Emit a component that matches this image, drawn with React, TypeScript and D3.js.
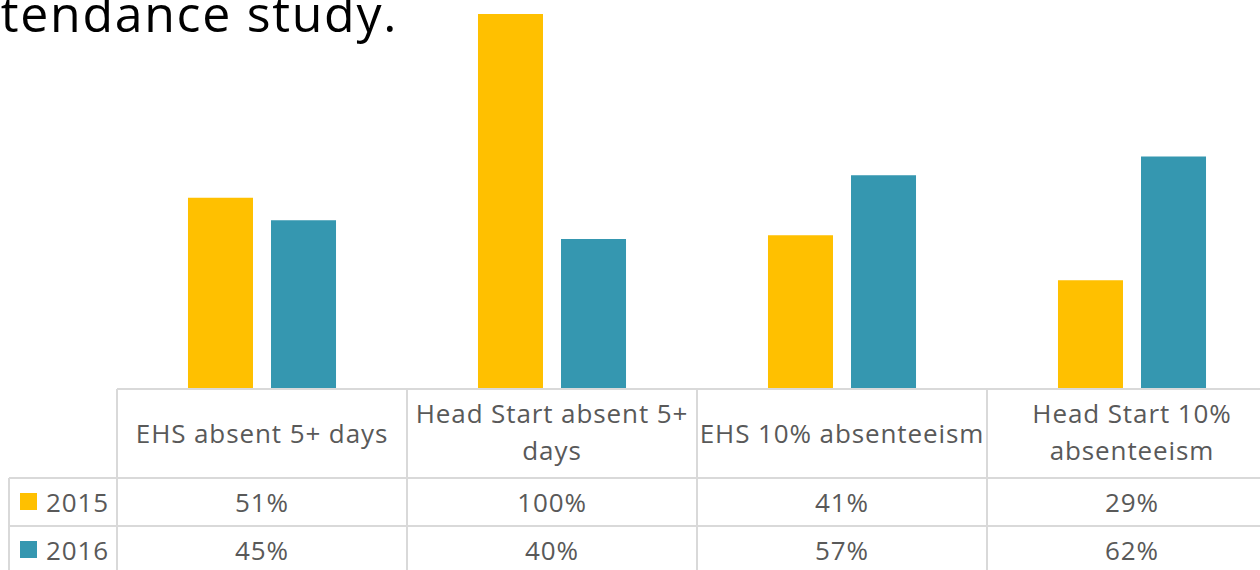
import React, { useEffect, useRef } from 'react';
import * as d3 from 'd3';

const categories = [
  ['EHS absent 5+ days'],
  ['Head Start absent 5+', 'days'],
  ['EHS 10% absenteeism'],
  ['Head Start 10%', 'absenteeism'],
];
const seriesNames = ['2015', '2016'];
const values2015 = [0.51, 1.0, 0.41, 0.29];
const values2016 = [0.45, 0.4, 0.57, 0.62];
const labels2015 = ['51%', '100%', '41%', '29%'];
const labels2016 = ['45%', '40%', '57%', '62%'];
const colors = ['#FFC000', '#3597B0'];

const FONT = '"Open Sans", "Noto Sans", sans-serif';

const App = () => {
  const svgRef = useRef<SVGSVGElement>(null);

  useEffect(() => {
    const svg = d3.select(svgRef.current);
    svg.selectAll('*').remove();

    const W = 1260, H = 570;
    const left = 117, colW = 290;
    const base = 389, top = 14;
    const headerBottom = 478, rowH = 48;
    const legendLeft = 9;
    const grid = '#D9D9D9';
    const txt = '#595959';
    const fs = 26;
    const ls = 0.9;

    const keys = categories.map((c) => c.join(' '));
    const x = d3.scaleBand().domain(keys).range([left, left + colW * keys.length]);
    const xs = d3.scaleBand().domain(seriesNames).range([0, colW]).paddingInner(0.217).paddingOuter(0.855);
    const y = d3.scaleLinear().domain([0, 1]).range([base, top]);

    // title (cut off at the left edge, as in the slide)
    svg.append('text')
      .attr('x', 398).attr('y', 32)
      .attr('text-anchor', 'end')
      .attr('font-family', FONT).attr('font-size', 50)
      .attr('letter-spacing', 1.7)
      .attr('fill', '#000')
      .text('tendance study.');

    const allVals = [values2015, values2016];
    seriesNames.forEach((s, si) => {
      svg.append('g').selectAll('rect')
        .data(keys)
        .enter().append('rect')
        .attr('x', (d) => x(d)! + xs(s)!)
        .attr('width', xs.bandwidth())
        .attr('y', (d, i) => y(allVals[si][i]))
        .attr('height', (d, i) => base - y(allVals[si][i]))
        .attr('fill', colors[si]);
    });

    // data table grid
    const g = svg.append('g').attr('stroke', grid).attr('stroke-width', 2).attr('fill', 'none');
    g.append('line').attr('x1', left).attr('x2', W).attr('y1', base).attr('y2', base);
    [0, 1, 2].forEach((r) => {
      const yy = headerBottom + r * rowH;
      g.append('line').attr('x1', legendLeft).attr('x2', W).attr('y1', yy).attr('y2', yy);
    });
    g.append('line').attr('x1', legendLeft).attr('x2', legendLeft).attr('y1', headerBottom).attr('y2', H + 10);
    keys.forEach((k) => {
      g.append('line').attr('x1', x(k)!).attr('x2', x(k)!).attr('y1', base).attr('y2', H + 10);
    });
    g.append('line').attr('x1', left + colW * 4).attr('x2', left + colW * 4).attr('y1', base).attr('y2', H + 10);

    // header labels
    const hdr = svg.append('g').attr('font-family', FONT).attr('font-size', fs)
      .attr('letter-spacing', ls).attr('fill', txt).attr('text-anchor', 'middle');
    categories.forEach((lines, i) => {
      const cx = x(keys[i])! + colW / 2;
      if (lines.length === 1) {
        hdr.append('text').attr('x', cx).attr('y', 443).text(lines[0]);
      } else {
        hdr.append('text').attr('x', cx).attr('y', 423).text(lines[0]);
        hdr.append('text').attr('x', cx).attr('y', 460).text(lines[1]);
      }
    });

    // rows
    const rowLabels = [labels2015, labels2016];
    seriesNames.forEach((s, si) => {
      const by = headerBottom + si * rowH + 34;
      svg.append('rect')
        .attr('x', 20).attr('y', headerBottom + si * rowH + 15)
        .attr('width', 17).attr('height', 17)
        .attr('fill', colors[si]);
      svg.append('text')
        .attr('x', 46).attr('y', by)
        .attr('font-family', FONT).attr('font-size', fs).attr('letter-spacing', ls).attr('fill', txt)
        .text(s);
      svg.append('g').selectAll('text')
        .data(keys)
        .enter().append('text')
        .attr('x', (d) => x(d)! + colW / 2)
        .attr('y', by)
        .attr('text-anchor', 'middle')
        .attr('font-family', FONT).attr('font-size', fs).attr('letter-spacing', ls).attr('fill', txt)
        .text((d, i) => rowLabels[si][i]);
    });
  }, []);

  return (
    <div>
      <svg ref={svgRef} width={1260} height={570} style={{ position: 'absolute', left: 0, top: 0, background: '#fff' }}></svg>
    </div>
  );
};

export default App;
